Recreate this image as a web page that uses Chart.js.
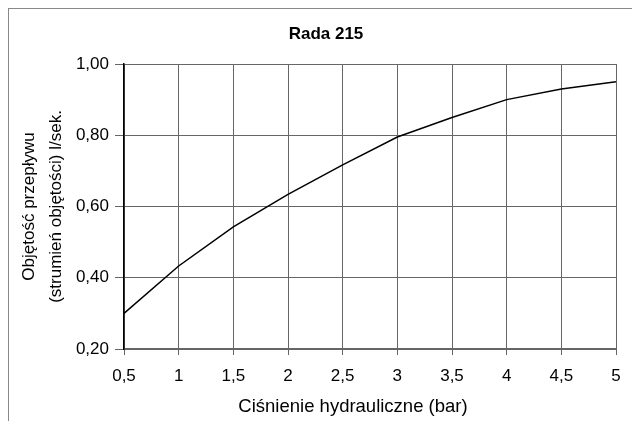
<!DOCTYPE html>
<html>
<head>
<meta charset="utf-8">
<script src="https://cdn.jsdelivr.net/npm/chart.js@4"></script>
<style>
  html, body { margin: 0; padding: 0; background: #fff; }
  #wrap { position: relative; width: 632px; height: 421px; overflow: hidden; }
  #frame { position: absolute; left: 8px; top: 8px; width: 700px; height: 500px;
           border-left: 1.5px solid #888; border-top: 1.5px solid #888; }
  canvas { position: absolute; left: 0; top: 0; }
</style>
</head>
<body>
<div id="wrap">
  <div id="frame"></div>
  <canvas id="myChart" width="632" height="421"></canvas>
</div>
<script>
const tytul = 'Rada 215';
const cisnienie = ['0,5', '1', '1,5', '2', '2,5', '3', '3,5', '4', '4,5', '5'];
const przeplyw = [0.30, 0.433, 0.543, 0.634, 0.717, 0.795, 0.85, 0.90, 0.93, 0.95];
const tytulX = 'Ciśnienie hydrauliczne (bar)';
const tytulY = ['Objętość przepływu', '(strumień objętości) l/sek.'];

const FONT = 'Arial, "Liberation Sans", sans-serif';

// tytuł wykresu i tytuł osi X rysowane ręcznie - w oryginale nie są nad środkiem osi
const tytulPlugin = {
  id: 'tytul',
  afterDraw(chart) {
    const ctx = chart.ctx;
    ctx.save();
    ctx.fillStyle = '#000';
    ctx.textAlign = 'center';
    ctx.textBaseline = 'middle';
    ctx.font = 'bold 17px ' + FONT;
    ctx.fillText(tytul, 326, 34);
    ctx.font = '18.5px ' + FONT;
    ctx.fillText(tytulX, 353, 407);
    ctx.restore();
  }
};

const ctx = document.getElementById('myChart').getContext('2d');
const chart = new Chart(ctx, {
  type: 'line',
  data: {
    labels: cisnienie,
    datasets: [{
      data: przeplyw,
      borderColor: '#000',
      borderWidth: 1.5,
      pointRadius: 0,
      tension: 0,
      fill: false
    }]
  },
  options: {
    responsive: false,
    animation: false,
    layout: { padding: { top: 64, right: 16, bottom: 0, left: 0 } },
    plugins: {
      legend: { display: false },
      tooltip: { enabled: false }
    },
    scales: {
      x: {
        type: 'category',
        offset: false,
        grid: { color: '#666', lineWidth: 1, tickLength: 6, drawTicks: true },
        border: { color: '#666', width: 2 },
        ticks: { color: '#000', font: { family: FONT, size: 17 }, padding: 11, maxRotation: 0, autoSkip: false },
        afterFit(scale) { scale.height = 72; }
      },
      y: {
        min: 0.2,
        max: 1.0,
        grid: { color: '#666', lineWidth: 1, tickLength: 9 },
        border: { color: '#000', width: 1.5 },
        ticks: {
          stepSize: 0.2,
          color: '#000',
          font: { family: FONT, size: 17 },
          padding: 6,
          callback: v => v.toFixed(2).replace('.', ',')
        },
        title: { display: true, text: tytulY, color: '#000', font: { family: FONT, size: 17, lineHeight: 1.6 }, padding: { top: 16, bottom: 0 } },
        afterFit(scale) { scale.width = 124; }
      }
    }
  },
  plugins: [tytulPlugin]
});
</script>
</body>
</html>
